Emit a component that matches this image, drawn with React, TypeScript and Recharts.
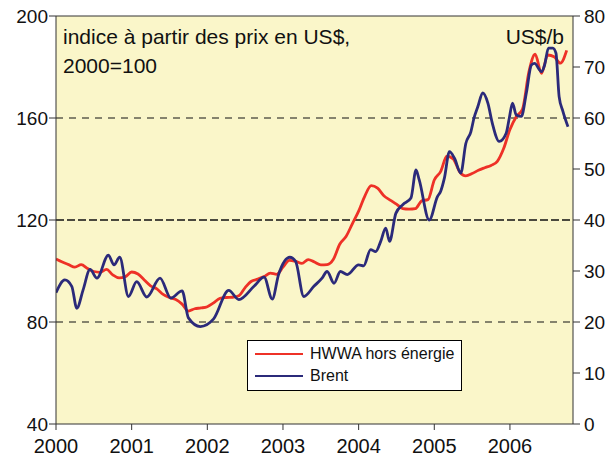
import { LineChart, Line, XAxis, YAxis, ReferenceLine, ReferenceArea } from "recharts";

// HWWA hors énergie, monthly from Jan 2000 (index, 2000=100)
const hwwa = [
  104.7, 103.5, 102.5, 101.5, 102.5, 101, 99.8, 99.5, 100.6, 98.5, 97.3, 97.8,
  99.6, 98.8, 96.5, 94.2, 93, 90.8, 89.6, 88.8, 87, 84.3, 85.2, 85.5,
  86, 87.5, 89.3, 89.6, 89.7, 90.3, 93.5, 96, 96.8, 97.8, 99.2, 98.7,
  101.5, 104.2, 103.8, 103, 104.5, 103.5, 102.4, 102.5, 104.6, 110.5, 113.5, 118.5,
  123.5, 129.5, 133.5, 132.5, 129.5, 127.8, 126.2, 124.5, 124.3, 124.5, 127.5, 128,
  135.7, 139, 145, 144, 139, 137.3, 138.2, 139.5, 140.5, 141.4, 143, 148,
  155.5, 160.5, 163.5, 178, 185, 177.5, 184.7, 184, 181.5, 186.5,
];

// Brent (US$/b), months since Jan 2000 and price
const brentMonths = [
  0, 1.4, 2.5, 3.3, 4.3, 5.4, 6.5, 8.3, 9.2, 10.1, 11.5, 12.8, 14.4, 16.5, 18.2, 20, 21, 22.9,
  25, 27.4, 29, 31.4, 33, 34.3, 35.3, 37.1, 38, 39.3, 40.9, 42.2, 43, 44.1, 45.1, 46.2, 48, 48.8,
  49.9, 50.7, 51.5, 52.3, 52.9, 53.9, 55, 56.3, 57.1, 57.6, 59.2, 60.5, 61, 61.6, 62.4, 63.2,
  64.2, 65, 65.8, 66.3, 66.9, 67.7, 68.5, 69.2, 70.3, 71.4, 71.9, 72.4, 73, 73.8, 74.6, 75.4,
  75.9, 77, 77.5, 78.1, 78.8, 79.3, 79.8, 80.4, 81.2,
];
const brent = [
  25.75, 28.25, 27, 22.7, 26.3, 30.3, 28.6, 33.1, 31.2, 32.7, 25, 27.9, 24.9, 28.6, 24.7, 26.1, 20.8, 19.1,
  20.6, 26.2, 24.4, 27, 28.8, 24.5, 29.3, 32.7, 31.9, 25, 27, 28.6, 29.9, 27.6, 29.9, 29.3, 31.2, 31,
  34.2, 33.8, 35.8, 38.4, 35.8, 41.3, 43, 44.3, 49.8, 47.9, 40, 44.6, 45.6, 48.2, 53.4, 52.1,
  49.2, 55, 57.3, 60, 62.2, 64.9, 62.9, 59, 55.4, 57, 60, 62.9, 60.6, 60.3, 64.9, 70.4,
  70.7, 69.1, 70.4, 73.7, 73.7, 72.7, 64.2, 61.3, 58.3,
];

const years = ["2000", "2001", "2002", "2003", "2004", "2005", "2006"];
const leftTicks = [40, 80, 120, 160, 200];
const rightTicks = [0, 10, 20, 30, 40, 50, 60, 70, 80];

type Row = { t: number; hwwa?: number; brent?: number };
const rows: Row[] = [
  ...hwwa.map((v, i) => ({ t: i, hwwa: v })),
  ...brentMonths.map((t, i) => ({ t, brent: brent[i] })),
].sort((a, b) => a.t - b.t);

const font = '"Liberation Sans", Arial, Helvetica, sans-serif';
const RED = "#EE3127";
const BLUE = "#2B2A7A";

function LegendBox() {
  return (
    <div
      style={{
        position: "absolute",
        left: 247,
        top: 340,
        width: 213,
        height: 49,
        background: "#fff",
        border: "1px solid #000",
        fontFamily: font,
        fontSize: 16,
        color: "#111",
        boxSizing: "content-box",
      }}
    >
      {[
        { c: RED, t: "HWWA hors énergie" },
        { c: BLUE, t: "Brent" },
      ].map((it, i) => (
        <div key={i} style={{ position: "absolute", left: 7, top: 3 + i * 22, display: "flex", alignItems: "center", height: 20 }}>
          <span style={{ display: "inline-block", width: 48, height: 2, background: it.c, marginRight: 7 }} />
          <span>{it.t}</span>
        </div>
      ))}
    </div>
  );
}

export default function App() {
  return (
    <div style={{ position: "absolute", left: 0, top: 0, width: 611, height: 458, background: "#fff", fontFamily: font }}>
      <LineChart width={611} height={458} data={rows} margin={{ top: 16, right: 0, left: 0, bottom: 0 }}>
        <ReferenceArea yAxisId="l" x1={0} x2={82} y1={40} y2={200} fill="#FAF6C9" fillOpacity={1} stroke="none" />
        <XAxis
          dataKey="t"
          type="number"
          domain={[0, 82]}
          ticks={[0, 12, 24, 36, 48, 60, 72]}
          tickFormatter={(v: number) => years[v / 12]}
          allowDataOverflow
          height={34}
          stroke="#333"
          tickSize={6}
          tick={{ fontSize: 20, fill: "#111", fontFamily: font }}
          tickMargin={9}
        />
        <YAxis
          yAxisId="l"
          domain={[40, 200]}
          ticks={leftTicks}
          width={56}
          stroke="#333"
          tickSize={7}
          tickMargin={1}
          tick={{ fontSize: 19, fill: "#111", fontFamily: font }}
        />
        <YAxis
          yAxisId="r"
          orientation="right"
          domain={[0, 80]}
          ticks={rightTicks}
          width={38}
          stroke="#333"
          tickSize={7}
          tickMargin={4}
          tick={{ fontSize: 19, fill: "#111", fontFamily: font, textAnchor: "start" }}
        />
        <ReferenceLine yAxisId="l" y={80} stroke="#111" strokeDasharray="7 6" />
        <ReferenceLine yAxisId="l" y={120} stroke="#111" strokeWidth={1.4} strokeDasharray="8 3" />
        <ReferenceLine yAxisId="l" y={160} stroke="#111" strokeDasharray="7 6" />
        <ReferenceLine yAxisId="l" y={200} stroke="#333" />
        <Line yAxisId="l" dataKey="hwwa" stroke={RED} strokeWidth={2.8} dot={false} connectNulls isAnimationActive={false} type="monotone" />
        <Line yAxisId="r" dataKey="brent" stroke={BLUE} strokeWidth={2.8} dot={false} connectNulls isAnimationActive={false} type="monotone" />
      </LineChart>
      <div style={{ position: "absolute", left: 63, top: 22, fontSize: 21, lineHeight: "29px", color: "#111" }}>
        indice à partir des prix en US$,
        <br />
        2000=100
      </div>
      <div style={{ position: "absolute", right: 47, top: 22, fontSize: 21, lineHeight: "29px", color: "#111" }}>US$/b</div>
      <LegendBox />
    </div>
  );
}
